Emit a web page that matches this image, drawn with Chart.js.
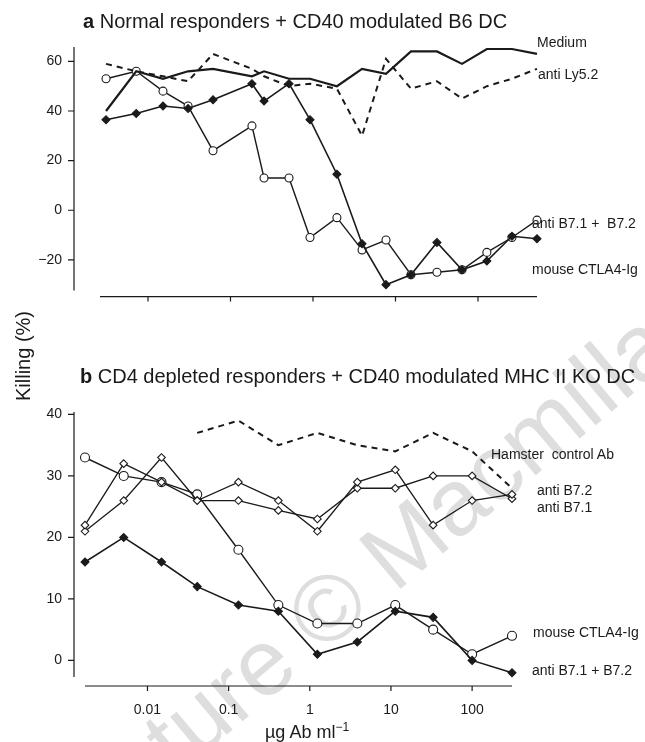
<!DOCTYPE html>
<html lang="en">
<head>
<meta charset="UTF-8">
<title>Killing vs antibody concentration</title>
<script src="https://cdn.jsdelivr.net/npm/chart.js"></script>
<style>
  body { margin: 0; background: #fff; font-family: "Liberation Sans", Arial, sans-serif; color: #1a1a1a; }
  #page { position: relative; width: 645px; height: 742px; overflow: hidden; }
  canvas { position: absolute; left: 0; }
  #chartA { top: 0; }
  #chartB { top: 337px; }
  .txt { position: absolute; white-space: pre; line-height: 1; }
  .title { font-size: 20px; }
  .lab { font-size: 14px; }
  .wm { position: absolute; left: 340px; top: 573px; width: 0; height: 0; transform: rotate(-40deg); transform-origin: 0 0; }
  .wm span { position: absolute; left: -375px; top: -28px; font-size: 94px; line-height: 1; white-space: pre; color: #dedede; }
</style>
</head>
<body>
<div id="page">
  <div class="wm"><span>Nature © Macmillan</span></div>
  <canvas id="chartA" width="645" height="337"></canvas>
  <canvas id="chartB" width="645" height="405"></canvas>

  <div class="txt title" style="left:83px; top:11px;"><b>a</b> Normal responders + CD40 modulated B6 DC</div>
  <div class="txt title" style="left:80px; top:366px;"><b>b</b> CD4 depleted responders + CD40 modulated MHC II KO DC</div>
  <div class="txt title" style="left:-37px; top:346px; width:120px; height:20px; line-height:20px; text-align:center; transform:rotate(-90deg);">Killing (%)</div>
  <div class="txt" style="left:265px; top:721px; font-size:18px;">µg Ab ml<sup style="font-size:12px;">−1</sup></div>

  <div class="txt lab" style="left:537px; top:35px;">Medium</div>
  <div class="txt lab" style="left:538px; top:67px;">anti Ly5.2</div>
  <div class="txt lab" style="left:532px; top:216px;">anti B7.1 +  B7.2</div>
  <div class="txt lab" style="left:532px; top:262px;">mouse CTLA4-Ig</div>

  <div class="txt lab" style="left:491px; top:447px;">Hamster  control Ab</div>
  <div class="txt lab" style="left:537px; top:483px;">anti B7.2</div>
  <div class="txt lab" style="left:537px; top:500px;">anti B7.1</div>
  <div class="txt lab" style="left:533px; top:625px;">mouse CTLA4-Ig</div>
  <div class="txt lab" style="left:532px; top:663px;">anti B7.1 + B7.2</div>
</div>

<script>
    // --- dados ---
    // painel a: concentração (µg/ml) e % de lise
    const xA = [0.0031, 0.0072, 0.0152, 0.0306, 0.0614, 0.182, 0.255, 0.512, 0.92, 1.95, 3.93, 7.67, 15.4, 31.8, 64, 128, 258, 519];
    const mediumA   = [40, 56, 53, 56, 57, 54, 56, 53, 53, 50, 57, 55, 64, 64, 59, 65, 65, 63];
    const antiLy52A = [59, 56, 54, 52, 63, 57, 54, 50, 51, 49, 30, 61, 49, 52, 45, 50, 53, 57];
    const ctla4A    = [53, 56, 48, 42, 24, 34, 13, 13, -11, -3, -16, -12, -26, -25, -24, -17, -11, -4];
    const antiB712A = [36.5, 39, 42, 41, 44.5, 51, 44, 51, 36.5, 14.5, -13.5, -30, -26, -13, -24, -20.5, -10.5, -11.5];

    // painel b
    const xB = [0.0017, 0.0051, 0.0149, 0.041, 0.132, 0.41, 1.24, 3.85, 11.3, 33.1, 100, 310];
    const hamsterB  = [null, null, null, 37, 39, 35, 37, 35, 34, 37, 34, 28];
    const antiB72B  = [22, 32, 29, 26, 29, 26, 21, 29, 31, 22, 26, 27];
    const antiB71B  = [21, 26, 33, 26, 26, 24.4, 23, 28, 28, 30, 30, 26.3];
    const ctla4B    = [33, 30, 29, 27, 18, 9, 6, 6, 9, 5, 1, 4];
    const antiB712B = [16, 20, 16, 12, 9, 8, 1, 3, 8, 7, 0, -2];

    // eixos
    const xTicks = [0.01, 0.1, 1, 10, 100];
    const xTickLabels = ['0.01', '0.1', '1', '10', '100'];
    const yTicksA = [-20, 0, 20, 40, 60];
    const yTicksB = [0, 10, 20, 30, 40];

    const INK = '#1a1a1a';
    const FONT = '"Liberation Sans", Arial, sans-serif';

    function series(xs, ys, opts) {
        const pts = [];
        xs.forEach((x, i) => { if (ys[i] !== null) pts.push({ x: x, y: ys[i] }); });
        return Object.assign({
            data: pts, borderColor: INK, borderWidth: 1.4, pointRadius: 0,
            tension: 0, clip: false, pointBorderColor: INK, pointBorderWidth: 1.1
        }, opts);
    }

    const openCircle = { pointStyle: 'circle', pointRadius: 4, pointBackgroundColor: '#fff' };
    const filledDiamond = { pointStyle: 'rectRot', pointRadius: 4, pointBackgroundColor: INK };
    const openDiamond = { pointStyle: 'rectRot', pointRadius: 3.8, pointBackgroundColor: '#fff' };

    // eixos "soltos" (afastados da área do gráfico), como na figura
    const offsetAxes = {
        id: 'offsetAxes',
        afterDraw(chart, args, o) {
            const { ctx, chartArea: a, scales: { x, y } } = chart;
            const yx = a.left - o.yGap, xy = a.bottom + o.xGap;
            ctx.save();
            ctx.strokeStyle = INK;
            ctx.lineWidth = 1.2;
            ctx.beginPath();
            ctx.moveTo(yx, a.top); ctx.lineTo(yx, a.bottom);
            y.ticks.forEach(t => { const p = y.getPixelForValue(t.value); ctx.moveTo(yx, p); ctx.lineTo(yx - 6, p); });
            ctx.moveTo(a.left, xy); ctx.lineTo(a.right, xy);
            x.ticks.forEach(t => { const p = x.getPixelForValue(t.value); ctx.moveTo(p, xy); ctx.lineTo(p, xy + 5); });
            ctx.stroke();
            ctx.restore();
        }
    };

    function fmt(v) { return v < 0 ? '\u2212' + Math.abs(v) : String(v); }

    function makeScales(cfg) {
        return {
            x: {
                type: 'logarithmic', min: cfg.xMin, max: cfg.xMax,
                afterFit: s => { s.height = cfg.xHeight; },
                afterBuildTicks: s => { s.ticks = xTicks.map(v => ({ value: v })); },
                grid: { display: false, drawTicks: false }, border: { display: false },
                ticks: {
                    display: cfg.xLabels, padding: 25, autoSkip: false, maxRotation: 0,
                    color: INK, font: { size: 14, family: FONT },
                    callback: (v, i) => xTickLabels[i]
                }
            },
            y: {
                type: 'linear', min: cfg.yMin, max: cfg.yMax,
                afterFit: s => { s.width = cfg.yWidth; },
                afterBuildTicks: s => { s.ticks = cfg.yTicks.map(v => ({ value: v })); },
                grid: { display: false, drawTicks: false }, border: { display: false },
                ticks: { padding: cfg.yPad, color: INK, font: { size: 14, family: FONT }, callback: v => fmt(v) }
            }
        };
    }

    const common = {
        responsive: false, animation: false,
        plugins: { legend: { display: false }, tooltip: { enabled: false } }
    };

    new Chart(document.getElementById('chartA'), {
        type: 'line',
        data: {
            datasets: [
                series(xA, mediumA, { borderWidth: 2.2 }),
                series(xA, antiLy52A, { borderWidth: 2, borderDash: [6, 5] }),
                series(xA, antiB712A, Object.assign({ borderWidth: 1.6 }, filledDiamond)),
                series(xA, ctla4A, Object.assign({ borderWidth: 1.4 }, openCircle))
            ]
        },
        options: Object.assign({}, common, {
            layout: { padding: { top: 47, right: 108, left: 0, bottom: 0 } },
            scales: makeScales({ xMin: 0.00262, xMax: 519, xHeight: 20, xLabels: false,
                                 yMin: -32.4, yMax: 65.8, yWidth: 100, yPad: 38, yTicks: yTicksA }),
            plugins: Object.assign({}, common.plugins, { offsetAxes: { yGap: 26, xGap: 6 } })
        }),
        plugins: [offsetAxes]
    });

    new Chart(document.getElementById('chartB'), {
        type: 'line',
        data: {
            datasets: [
                series(xB, hamsterB, { borderWidth: 2, borderDash: [6, 5] }),
                series(xB, antiB72B, Object.assign({ borderWidth: 1.3 }, openDiamond)),
                series(xB, antiB71B, Object.assign({ borderWidth: 1.3 }, openDiamond)),
                series(xB, antiB712B, Object.assign({ borderWidth: 1.6 }, filledDiamond)),
                series(xB, ctla4B, Object.assign({ borderWidth: 1.4 }, openCircle, { pointRadius: 4.5 }))
            ]
        },
        options: Object.assign({}, common, {
            layout: { padding: { top: 75, right: 133, left: 0, bottom: 0 } },
            scales: makeScales({ xMin: 0.0017, xMax: 310, xHeight: 65, xLabels: true,
                                 yMin: -2.7, yMax: 40.4, yWidth: 85, yPad: 23, yTicks: yTicksB }),
            plugins: Object.assign({}, common.plugins, { offsetAxes: { yGap: 11, xGap: 9 } })
        }),
        plugins: [offsetAxes]
    });
</script>
</body>
</html>
